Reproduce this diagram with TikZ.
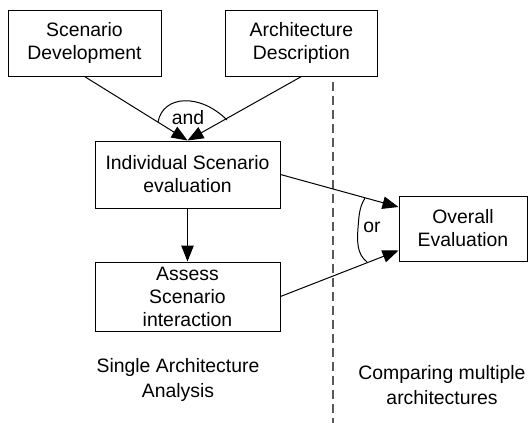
\documentclass[tikz,border=0pt]{standalone}
\usepackage{fontspec}
\setmainfont{Liberation Sans}
\usetikzlibrary{arrows.meta,calc}
\begin{document}
\begin{tikzpicture}[x=1pt,y=-1pt,
  font=\fontsize{19.4}{23}\selectfont,
  box/.style={draw,line width=1pt,align=center,inner sep=0pt},
  flow/.style={line width=1pt,-{Triangle[length=16pt,width=12.5pt]}},
  lbl/.style={align=center,inner sep=0pt},
  divider/.style={line width=1.2pt,gray!70!black,dash pattern=on 9pt off 5pt}]
\useasboundingbox (0,0) rectangle (528,423);
\node[box,minimum width=153pt,minimum height=66pt] (sd) at (84.5,43) {Scenario\\Development};
\node[box,minimum width=152pt,minimum height=66pt] (ad) at (301.5,43) {Architecture\\Description};
\node[box,minimum width=185pt,minimum height=67pt] (ise) at (187.5,174.5) {Individual Scenario\\evaluation};
\node[box,minimum width=185pt,minimum height=69pt] (asi) at (187.5,296.5) {Assess\\Scenario\\interaction};
\node[box,minimum width=128pt,minimum height=65pt] (oe) at (463,228.5) {Overall\\Evaluation};
\coordinate (top) at (333,82);
\coordinate (bot) at (333,423);
\draw[divider] (top) -- (bot);
\draw[flow] (sd.south) -- (ise.north);
\draw[flow] (ad.south) -- (ise.north);
\draw[flow] (ise.south) -- (asi.north);
\draw[flow] (ise.east) -- ([yshift=21.5pt]oe.west);
\draw[flow] (asi.east) -- ([yshift=-22pt]oe.west);
\draw[line width=1pt] (158,122) .. controls (163,95) and (200,93) .. (227,120);
\node[lbl,anchor=base] (andl) at (188,124.5) {and};
\draw[line width=1pt] (365,198) .. controls (359,208) and (359,216) .. (358,228) .. controls (357,242) and (357,254) .. (367,262);
\node[lbl,anchor=base] (orl) at (372,232) {or};
\node[lbl,font=\fontsize{19.4}{25}\selectfont] (single) at (178,380) {Single Architecture\\Analysis};
\node[lbl,font=\fontsize{19.4}{25}\selectfont] (multi) at (442,385) {Comparing multiple\\architectures};
\end{tikzpicture}
\end{document}
